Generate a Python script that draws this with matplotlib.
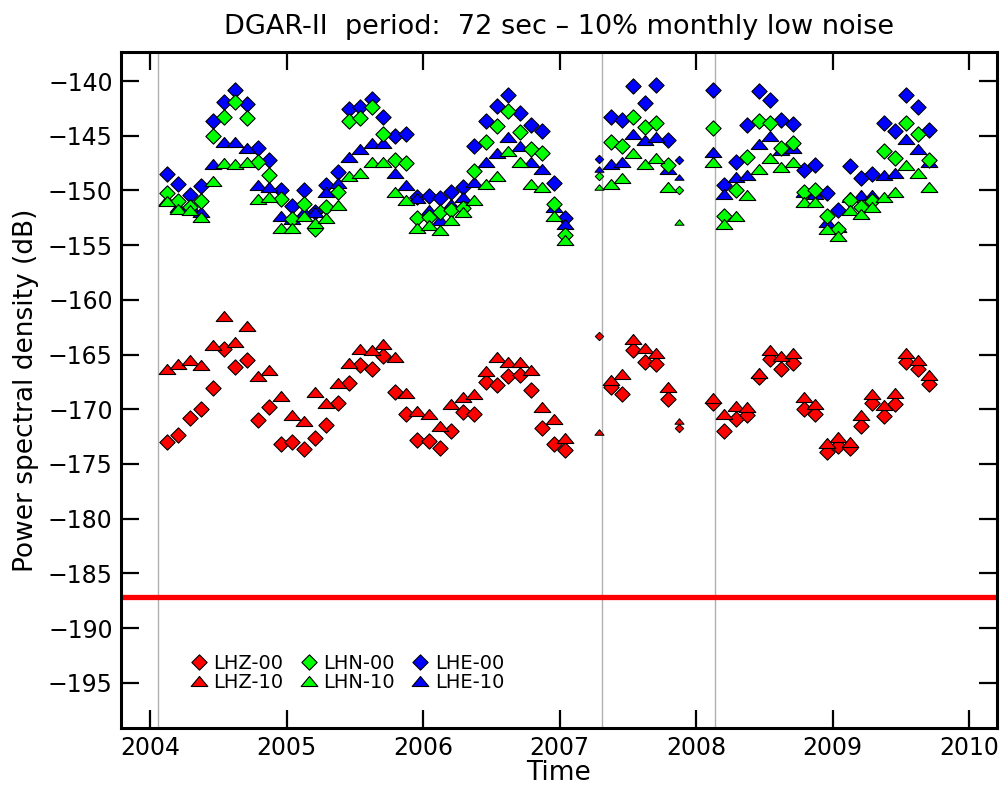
import numpy as np
import matplotlib
matplotlib.use("Agg")
import matplotlib.pyplot as plt
from matplotlib.path import Path

# monthly samples: Feb 2004 - Jan 2007, May - Oct 2007, Feb 2008 - Sep 2009
months = ["2004-02", "2004-03", "2004-04", "2004-05", "2004-06", "2004-07", "2004-08", "2004-09",
          "2004-10", "2004-11", "2004-12", "2005-01", "2005-02", "2005-03", "2005-04", "2005-05",
          "2005-06", "2005-07", "2005-08", "2005-09", "2005-10", "2005-11", "2005-12", "2006-01",
          "2006-02", "2006-03", "2006-04", "2006-05", "2006-06", "2006-07", "2006-08", "2006-09",
          "2006-10", "2006-11", "2006-12", "2007-01",
          "2007-05", "2007-06", "2007-07", "2007-08", "2007-09", "2007-10",
          "2008-02", "2008-03", "2008-04", "2008-05", "2008-06", "2008-07", "2008-08", "2008-09",
          "2008-10", "2008-11", "2008-12", "2009-01", "2009-02", "2009-03", "2009-04", "2009-05",
          "2009-06", "2009-07", "2009-08", "2009-09"]
# incomplete months (drawn with small symbols)
months_part = ["2007-04", "2007-11"]

lhz_00 = [-173.0, -172.4, -170.8, -170.0, -168.1, -164.5, -166.1, -165.5, -171.0, -169.8, -173.2, -173.0,
          -173.6, -172.6, -171.4, -169.4, -167.6, -166.0, -166.3, -165.1, -168.4, -170.4, -172.8, -172.9,
          -173.5, -172.0, -170.3, -170.4, -167.5, -167.8, -167.0, -166.9, -168.2, -171.7, -173.2, -173.7,
          -168.0, -168.6, -164.6, -165.7, -165.9, -169.1,
          -169.4, -172.0, -170.9, -170.5, -167.1, -165.4, -166.3, -165.8, -170.0, -170.4, -173.9, -173.4,
          -173.5, -171.5, -169.4, -170.6, -169.5, -165.7, -166.3, -167.7]
lhz_10 = [-166.3, -165.9, -165.5, -166.0, -164.1, -161.5, -163.9, -162.4, -167.0, -166.4, -168.8, -170.5,
          -171.1, -168.4, -169.4, -167.6, -165.8, -164.5, -164.6, -164.0, -165.2, -168.5, -170.2, -170.4,
          -171.5, -169.5, -168.9, -168.6, -166.5, -165.2, -165.7, -165.7, -166.4, -169.8, -170.9, -172.6,
          -167.3, -166.8, -163.6, -164.4, -164.9, -168.0,
          -169.0, -170.4, -169.7, -169.8, -166.7, -164.6, -165.1, -164.9, -168.9, -169.5, -173.1, -172.5,
          -173.0, -170.5, -168.6, -169.6, -168.5, -164.9, -165.5, -166.9]
lhn_00 = [-150.2, -151.0, -151.5, -151.0, -145.0, -143.3, -141.9, -143.4, -147.4, -148.6, -150.8, -152.6,
          -151.2, -153.5, -151.5, -150.1, -143.7, -143.4, -142.4, -144.8, -147.2, -147.5, -152.5, -152.4,
          -152.0, -151.8, -151.6, -148.2, -145.6, -144.1, -142.7, -144.7, -146.2, -146.6, -151.2, -154.1,
          -145.6, -145.9, -143.3, -144.2, -143.8, -147.7,
          -144.3, -152.3, -150.0, -146.9, -143.7, -143.8, -146.1, -145.7, -150.1, -150.0, -152.3, -153.5,
          -150.9, -151.5, -151.0, -146.4, -147.0, -143.8, -144.8, -147.2]
lhn_10 = [-151.0, -151.7, -151.8, -152.4, -149.1, -147.5, -147.6, -147.4, -150.8, -150.6, -153.4, -153.4,
          -152.3, -153.0, -152.5, -151.3, -148.7, -148.4, -147.4, -147.4, -150.1, -150.9, -153.4, -153.2,
          -153.6, -152.7, -152.0, -150.9, -149.4, -148.7, -146.4, -147.4, -149.4, -149.7, -152.3, -154.5,
          -149.4, -148.9, -146.6, -147.6, -147.0, -149.7,
          -147.4, -153.1, -152.3, -150.4, -148.0, -147.0, -147.9, -147.4, -151.1, -151.1, -153.5, -154.2,
          -151.8, -152.2, -151.5, -150.6, -150.1, -147.7, -148.4, -149.7]
lhe_00 = [-148.5, -149.4, -150.4, -149.6, -143.7, -141.9, -140.8, -142.1, -146.1, -147.2, -150.0, -151.4,
          -150.0, -152.0, -149.5, -148.3, -142.6, -142.4, -141.6, -143.3, -145.0, -144.8, -150.6, -150.5,
          -150.7, -150.1, -149.7, -145.9, -143.7, -142.3, -141.3, -142.9, -144.0, -144.6, -149.3, -152.5,
          -143.3, -143.6, -140.5, -142.0, -140.4, -145.4,
          -140.8, -149.5, -147.4, -144.0, -140.9, -141.7, -143.6, -143.9, -148.1, -147.7, -150.2, -151.8,
          -147.8, -148.9, -148.5, -143.8, -144.6, -141.3, -142.4, -144.5]
lhe_10 = [-150.9, -151.5, -151.4, -152.0, -147.6, -145.6, -145.6, -146.1, -149.5, -149.7, -152.3, -152.6,
          -152.0, -152.0, -150.1, -149.3, -146.9, -146.2, -145.7, -145.7, -148.4, -149.5, -150.7, -151.8,
          -152.7, -151.2, -150.6, -149.2, -147.4, -146.6, -145.1, -145.9, -147.4, -148.0, -151.5, -153.1,
          -147.6, -147.4, -144.8, -145.4, -145.1, -148.0,
          -146.5, -150.3, -148.8, -148.6, -145.8, -145.0, -146.3, -146.1, -150.1, -150.3, -152.9, -153.3,
          -150.6, -150.4, -150.4, -148.6, -148.4, -145.3, -146.2, -147.4]

part = {"LHZ-00": [-163.3, -171.7], "LHZ-10": [-172.1, -171.1],
        "LHN-00": [-148.7, -150.0], "LHN-10": [-149.7, -152.9],
        "LHE-00": [-147.1, -147.2], "LHE-10": [-148.0, -148.8]}

# station changes and low noise model level
event_years = [2004.06, 2007.31, 2008.14]
nlnm_level = -187.2


def dec_year(labels):
    out = []
    for s in labels:
        y, m = s.split("-")
        out.append(int(y) + (int(m) - 0.5) / 12.0)
    return np.array(out)


t = dec_year(months)
t_part = dec_year(months_part)

diamond = Path([(0, 1), (1, 0), (0, -1), (-1, 0), (0, 1)], closed=True)
triangle = Path([(-1, -0.6), (1, -0.6), (0, 0.6), (-1, -0.6)], closed=True)

series = [("LHZ-00", lhz_00, "#ff0000", diamond),
          ("LHZ-10", lhz_10, "#ff0000", triangle),
          ("LHE-00", lhe_00, "#0000ff", diamond),
          ("LHE-10", lhe_10, "#0000ff", triangle),
          ("LHN-00", lhn_00, "#00ff00", diamond),
          ("LHN-10", lhn_10, "#00ff00", triangle)]

fig = plt.figure(figsize=(10.04, 7.86), dpi=100)
ax = fig.add_axes([0.1205, 0.0738, 0.8725, 0.86])

for xv in event_years:
    ax.axvline(xv, color="#b0b0b0", lw=1.0, zorder=1)
ax.axhline(nlnm_level, color="#ff0000", lw=3.8, zorder=2)

handles = {}
for name, vals, col, mk in series:
    big = 11 if mk is diamond else 12
    h, = ax.plot(t, vals, ls="none", marker=mk, ms=big, mfc=col, mec="black", mew=0.8,
                 zorder=3, label=name)
    ax.plot(t_part, part[name], ls="none", marker=mk, ms=big * 0.55, mfc=col, mec="black",
            mew=0.7, zorder=3)
    handles[name] = h

order = ["LHZ-00", "LHZ-10", "LHN-00", "LHN-10", "LHE-00", "LHE-10"]
ax.legend([handles[k] for k in order], order, ncol=3, loc="upper left",
          bbox_to_anchor=(0.068, 0.124), frameon=False, fontsize=14,
          handlelength=0.9, handletextpad=0.3, columnspacing=0.85, labelspacing=0.0,
          borderpad=0)

ax.set_xlim(2003.787, 2010.205)
ax.set_ylim(-199.14, -137.35)
ax.set_xticks(range(2004, 2011))
ax.set_yticks(np.arange(-195, -139, 5))
ax.tick_params(direction="in", length=13, width=1.6, top=True, right=True,
               labelsize=17, pad=6)
for sp in ax.spines.values():
    sp.set_linewidth(2.2)

ax.set_title("DGAR-II  period:  72 sec \u2013 10% monthly low noise", fontsize=19.5, pad=13)
ax.set_xlabel("Time", fontsize=19, labelpad=0)
ax.set_ylabel("Power spectral density (dB)", fontsize=19, labelpad=6)

fig.savefig("out.png", dpi=100)
